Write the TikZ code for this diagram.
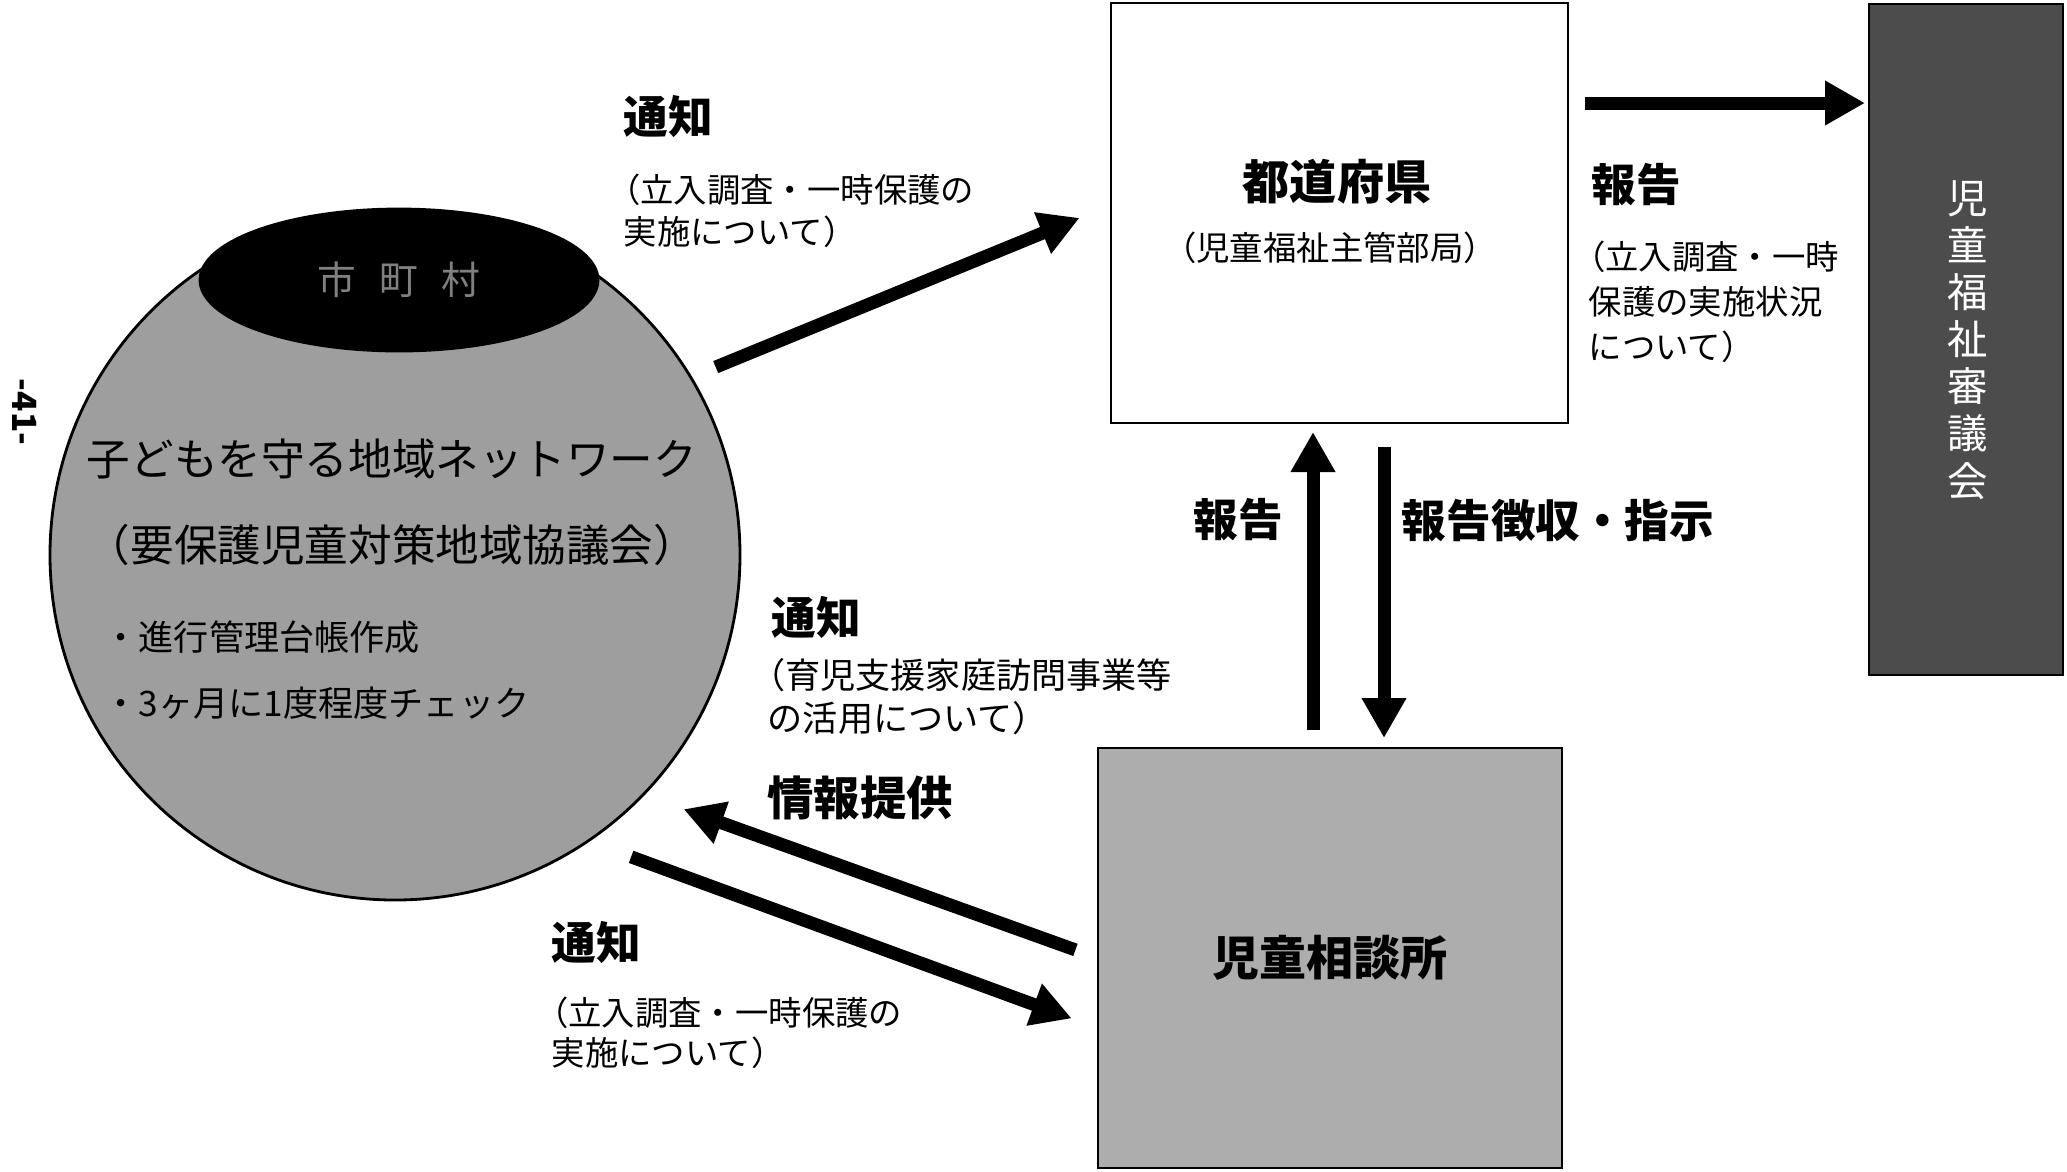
\documentclass[tikz,border=0pt]{standalone}
\usepackage{fontspec}
\setmainfont{Noto Sans CJK JP}
\usetikzlibrary{arrows.meta,shapes.geometric}

\begin{document}
\begin{tikzpicture}[
    flowbox/.style={draw,line width=0.8pt,rectangle,inner sep=0pt,outer sep=0pt},
    fatarrow/.style={-{Triangle[width=0.42cm,length=0.40cm]},line width=0.13cm},
    arrowtxt/.style={font=\fontsize{12.7}{15}\selectfont\bfseries,inner sep=0pt},
    boxtxt/.style={font=\fontsize{13.4}{16}\selectfont\bfseries,inner sep=0pt},
    smalltxt/.style={font=\fontsize{9.5}{11.8}\selectfont,align=left,anchor=west,inner sep=0pt},
    ]
\useasboundingbox (0,0) rectangle (20.67,-11.71);

%-------------------------------------------- Network (sphere)
\node[circle,draw,line width=0.8pt,fill=black!38,minimum size=6.9cm,inner sep=0pt,outer sep=0pt] (net) at (3.95,-5.55) {};
\node[ellipse,draw,line width=0.8pt,fill=black,minimum width=3.98cm,minimum height=1.42cm,
      inner sep=0pt,text=black!50,font=\fontsize{11}{13}\selectfont] (shi) at (3.99,-2.80) {市\hspace{.6em}町\hspace{.6em}村};
\node[font=\fontsize{12.4}{24.5}\selectfont,align=center,inner sep=0pt] (nettitle) at (3.92,-5.02)
      {子どもを守る地域ネットワーク\\（要保護児童対策地域協議会）};
\node[font=\fontsize{10}{18.8}\selectfont,align=left,anchor=west,inner sep=0pt] (netnote) at (1.03,-6.70)
      {・進行管理台帳作成\\・3ヶ月に1度程度チェック};

% Page number
\node[rotate=-90,font=\fontsize{9.5}{11}\selectfont\bfseries,inner sep=0pt] (pageno) at (0.25,-4.12) {-41-};

%-------------------------------------------- Boxes
\node[flowbox,fill=white,minimum width=4.57cm,minimum height=4.2cm] (pref) at (13.395,-2.13) {};
\node[boxtxt] (preftitle) at (13.37,-1.82) {都道府県};
\node[font=\fontsize{9.5}{11}\selectfont,inner sep=0pt] (prefsub) at (13.30,-2.48) {（児童福祉主管部局）};

\node[flowbox,fill=black!32,minimum width=4.64cm,minimum height=4.2cm,boxtxt] (sodan) at (13.30,-9.58) {児童相談所};

\node[flowbox,fill=black!70,minimum width=1.94cm,minimum height=6.71cm] (shingi) at (19.66,-3.395) {};
\node[align=center,text=white,font=\fontsize{11.5}{13.4}\selectfont,inner sep=0pt] (shingitxt) at (19.68,-3.40)
      {児\\童\\福\\祉\\審\\議\\会};

%-------------------------------------------- Network -> prefecture
\draw[fatarrow,shorten <=0.27cm,shorten >=0.34cm] (net.31.8) -- ([yshift=0.08cm]pref.west);
\node[arrowtxt] (tsuchi1) at (6.68,-1.16) {通知};
\node[smalltxt] (tsuchi1note) at (6.23,-2.11) {\hspace*{-.5em}（立入調査・一時保護の\\実施について）};

%-------------------------------------------- Prefecture -> council
\draw[fatarrow,shorten <=0.17cm,shorten >=0.04cm] ([yshift=1.10cm]pref.east) -- ([yshift=1.10cm]pref.east -| shingi.west);
\node[arrowtxt] (houkoku1) at (16.36,-1.85) {報告};
\node[smalltxt,font=\fontsize{9.5}{12.8}\selectfont] (houkoku1note) at (15.88,-3.02)
      {\hspace*{-.5em}（立入調査・一時\\保護の実施状況\\について）};

%-------------------------------------------- Prefecture <-> child guidance centre
\draw[fatarrow,shorten <=0.18cm,shorten >=0.09cm] ([xshift=-0.17cm]sodan.north) -- ([xshift=-0.17cm]sodan.north |- pref.south);
\draw[fatarrow,shorten <=0.24cm,shorten >=0.10cm] ([xshift=0.54cm]sodan.north |- pref.south) -- ([xshift=0.54cm]sodan.north);
\node[arrowtxt] (houkoku2) at (12.38,-5.20) {報告};
\node[arrowtxt] (choshu) at (15.58,-5.21) {報告徴収・指示};

%-------------------------------------------- Child guidance centre <-> network
\node[arrowtxt] (tsuchi2) at (8.16,-6.17) {通知};
\node[smalltxt,font=\fontsize{10}{12.2}\selectfont] (tsuchi2note) at (7.67,-6.965)
      {\hspace*{-.5em}（育児支援家庭訪問事業等\\の活用について）};

\draw[fatarrow,shorten <=0.24cm,shorten >=0.43cm] (sodan.west) -- (net.-44);
\node[arrowtxt,font=\fontsize{13.2}{15}\selectfont\bfseries] (joho) at (8.60,-7.98) {情報提供};

\draw[fatarrow,shorten <=0.46cm,shorten >=0.28cm] (net.-56.2) -- ([yshift=-0.70cm]sodan.west);
\node[arrowtxt] (tsuchi3) at (5.96,-9.42) {通知};
\node[smalltxt,font=\fontsize{9.5}{11.5}\selectfont] (tsuchi3note) at (5.51,-10.325)
      {\hspace*{-.5em}（立入調査・一時保護の\\実施について）};

\end{tikzpicture}
\end{document}
